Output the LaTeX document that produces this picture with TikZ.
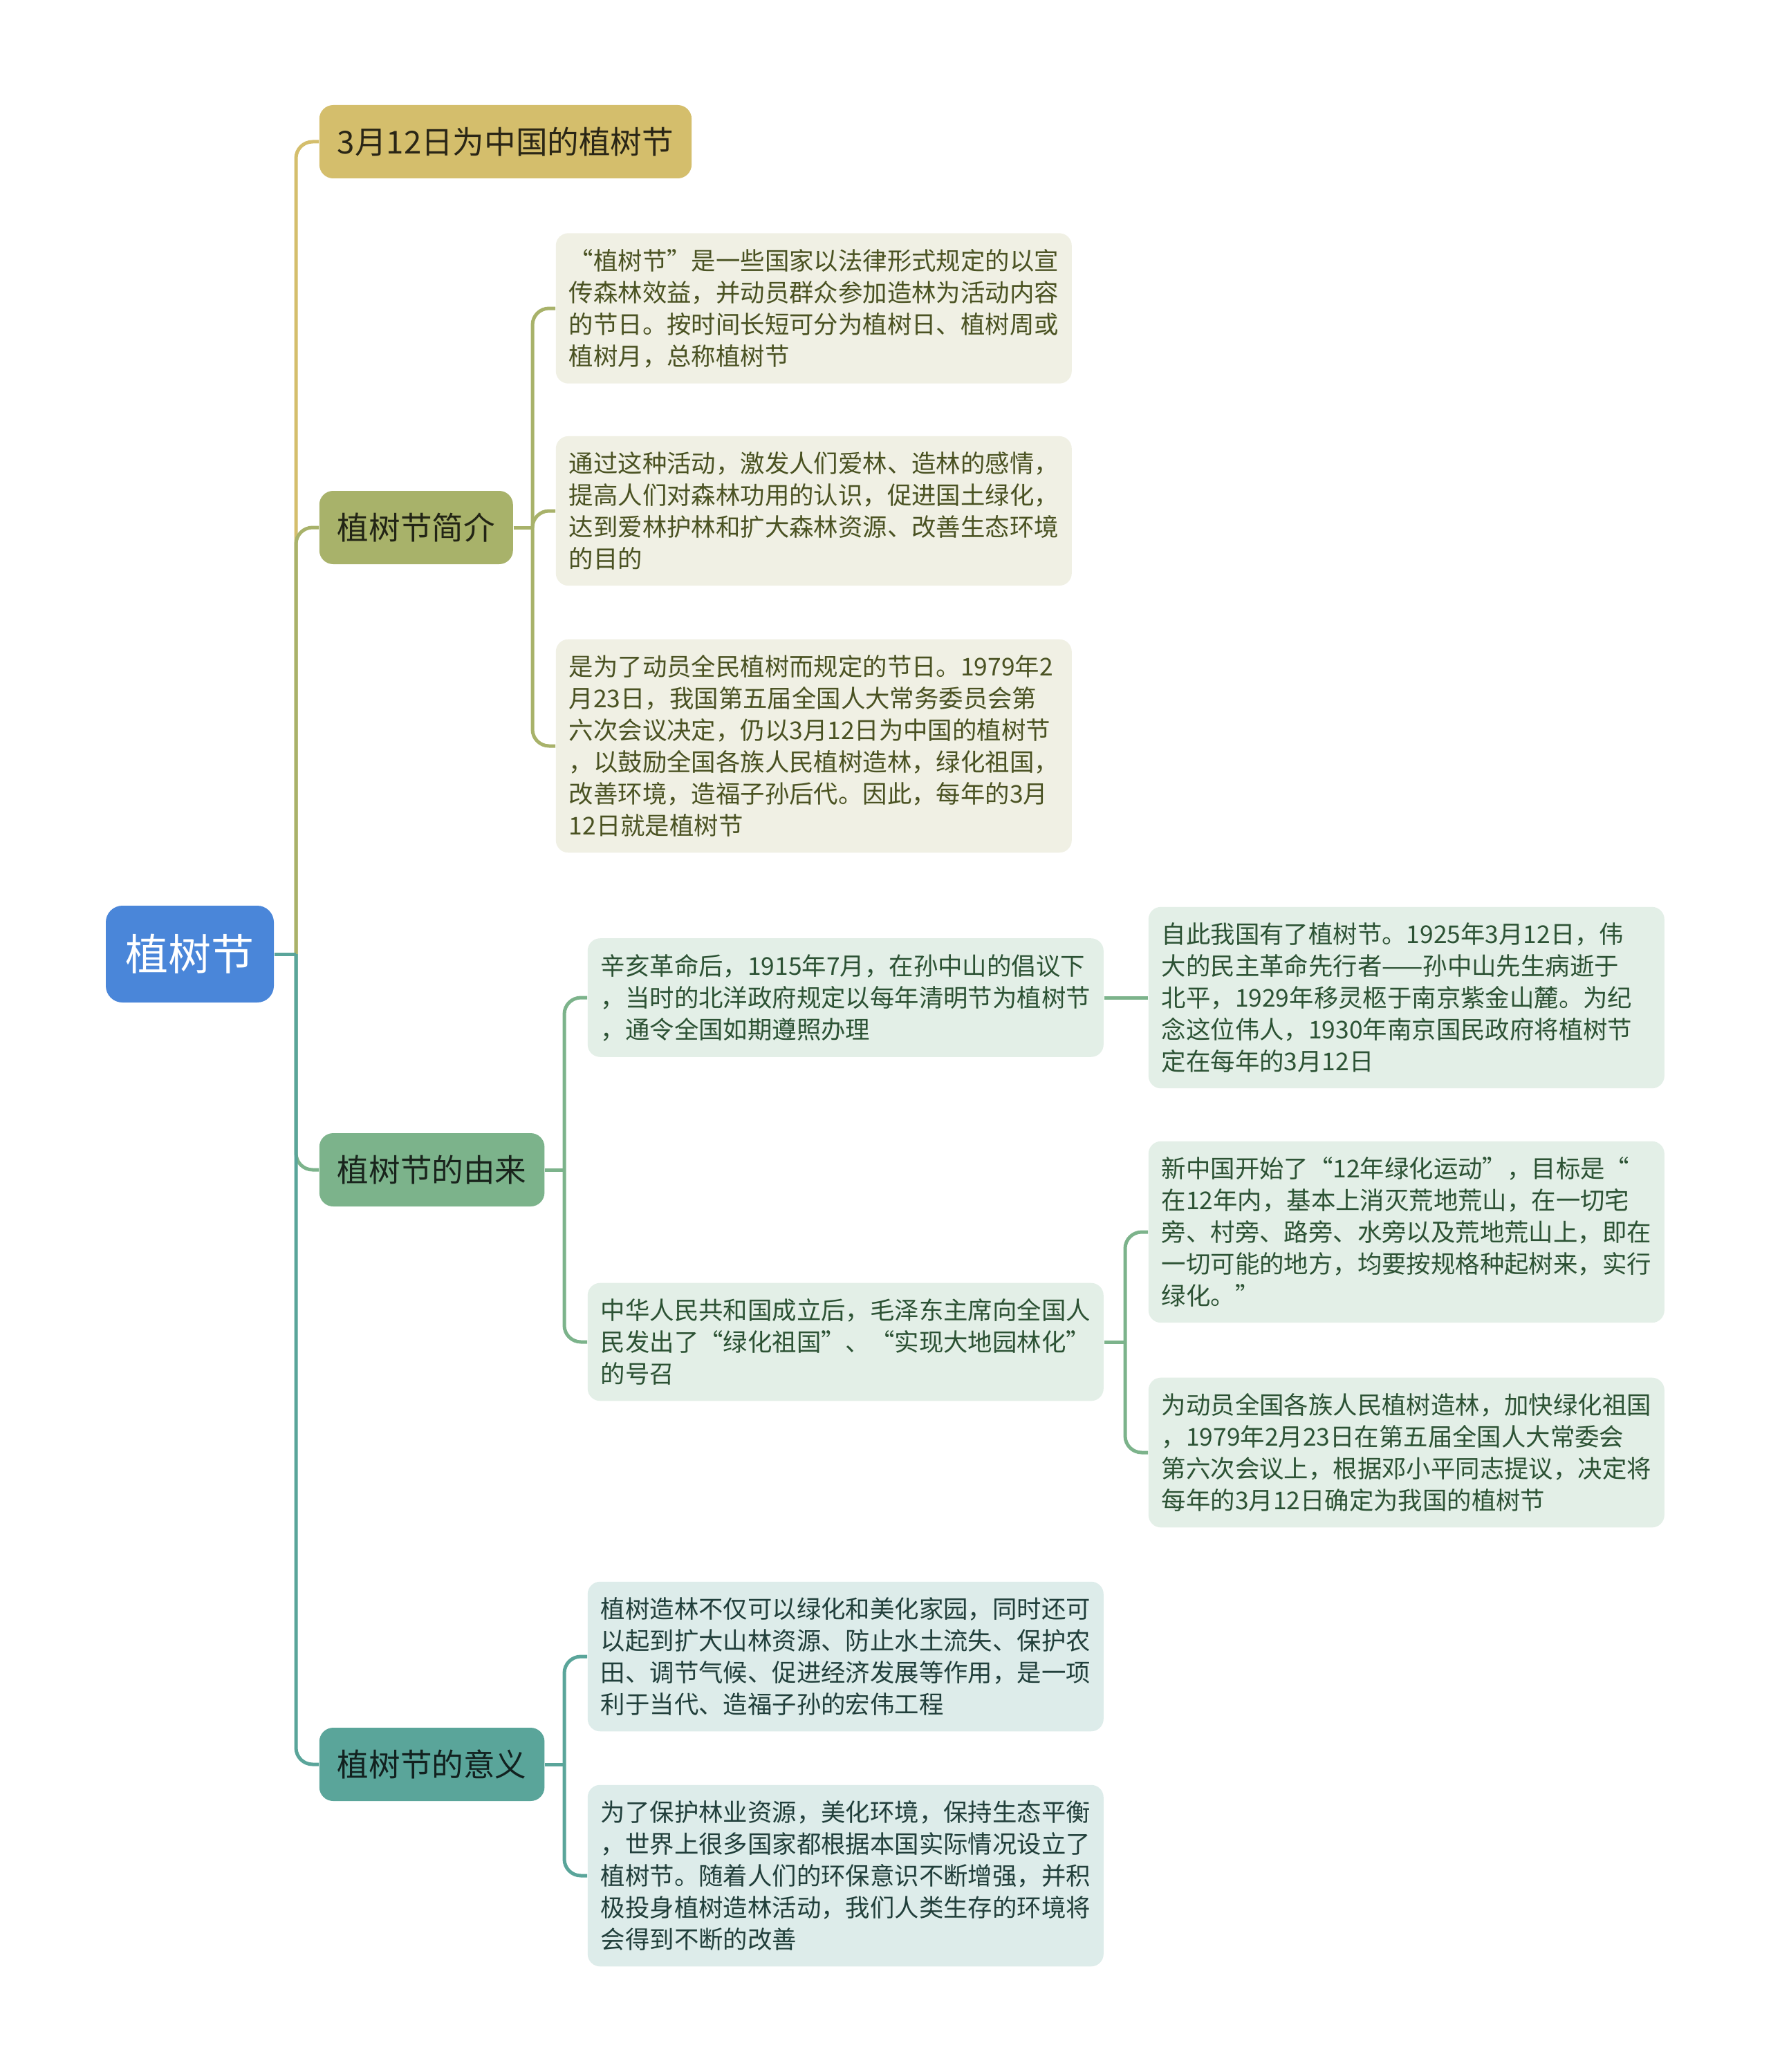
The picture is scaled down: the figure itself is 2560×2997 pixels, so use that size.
\documentclass[tikz,border=0pt]{standalone}
\usepackage{fontspec}
\newfontfamily\cjk{Noto Sans CJK SC}
\definecolor{rootblue}{HTML}{4A86D9}
\definecolor{gold}{HTML}{D4BE6C}
\definecolor{olive}{HTML}{A8B26A}
\definecolor{leafgreen}{HTML}{7CB38B}
\definecolor{teal}{HTML}{5AA59A}
\definecolor{goldbg}{HTML}{F0F0E4}
\definecolor{greenbg}{HTML}{E3EFE7}
\definecolor{tealbg}{HTML}{DDECEA}
\definecolor{olivetext}{HTML}{4A5222}
\definecolor{greentext}{HTML}{2C5234}
\definecolor{tealtext}{HTML}{213F3B}
\begin{document}
\begin{tikzpicture}[x=0.25pt,y=-0.25pt,
    root/.style={fill=rootblue, text=white, rounded corners=6pt,
      font=\cjk\fontsize{15.5pt}{18pt}\selectfont,
      minimum width=60.75pt, minimum height=35pt},
    topic/.style={anchor=west, rounded corners=5pt, inner xsep=6.5pt,
      minimum height=26.5pt, font=\cjk\fontsize{11.4pt}{14pt}\selectfont},
    leaf/.style={anchor=west, rounded corners=4.5pt, text width=177pt,
      align=left, inner xsep=4.75pt, inner ysep=5.7pt,
      font=\cjk\fontsize{8.85pt}{11.5pt}\selectfont}]
  \fill[white] (0,0) rectangle (2560,2997);
  \useasboundingbox (0,0) rectangle (2560,2997);
  \draw
    (274.5,1380) node[root] (zsj) {植树节}
    (461,205) node[topic, fill=gold, text=black!80!gold] (riqi) {3月12日为中国的植树节}
    (461,763) node[topic, fill=olive, text=black!80!olive] (jianjie) {植树节简介}
    (461,1692) node[topic, fill=leafgreen, text=black!80!leafgreen] (youlai) {植树节的由来}
    (461,2552) node[topic, fill=teal, text=black!80!teal] (yiyi) {植树节的意义}
    (803,446) node[leaf, fill=goldbg, text=olivetext] (jj1) {“植树节”是一些国家以法律形式规定的以宣\\传森林效益，并动员群众参加造林为活动内容\\的节日。按时间长短可分为植树日、植树周或\\植树月，总称植树节}
    (803,739) node[leaf, fill=goldbg, text=olivetext] (jj2) {通过这种活动，激发人们爱林、造林的感情，\\提高人们对森林功用的认识，促进国土绿化，\\达到爱林护林和扩大森林资源、改善生态环境\\的目的}
    (803,1079) node[leaf, fill=goldbg, text=olivetext] (jj3) {是为了动员全民植树而规定的节日。1979年2\\月23日，我国第五届全国人大常务委员会第\\六次会议决定，仍以3月12日为中国的植树节\\，以鼓励全国各族人民植树造林，绿化祖国，\\改善环境，造福子孙后代。因此，每年的3月\\12日就是植树节}
    (849,1443) node[leaf, fill=greenbg, text=greentext] (yl1) {辛亥革命后，1915年7月，在孙中山的倡议下\\，当时的北洋政府规定以每年清明节为植树节\\，通令全国如期遵照办理}
    (849,1941) node[leaf, fill=greenbg, text=greentext] (yl2) {中华人民共和国成立后，毛泽东主席向全国人\\民发出了“绿化祖国”、“实现大地园林化”\\的号召}
    (1660,1443) node[leaf, fill=greenbg, text=greentext] (yl11) {自此我国有了植树节。1925年3月12日，伟\\大的民主革命先行者——孙中山先生病逝于\\北平，1929年移灵柩于南京紫金山麓。为纪\\念这位伟人，1930年南京国民政府将植树节\\定在每年的3月12日}
    (1660,1782) node[leaf, fill=greenbg, text=greentext] (yl21) {新中国开始了“12年绿化运动”，目标是“\\在12年内，基本上消灭荒地荒山，在一切宅\\旁、村旁、路旁、水旁以及荒地荒山上，即在\\一切可能的地方，均要按规格种起树来，实行\\绿化。”}
    (1660,2101) node[leaf, fill=greenbg, text=greentext] (yl22) {为动员全国各族人民植树造林，加快绿化祖国\\，1979年2月23日在第五届全国人大常委会\\第六次会议上，根据邓小平同志提议，决定将\\每年的3月12日确定为我国的植树节}
    (849,2396) node[leaf, fill=tealbg, text=tealtext] (yy1) {植树造林不仅可以绿化和美化家园，同时还可\\以起到扩大山林资源、防止水土流失、保护农\\田、调节气候、促进经济发展等作用，是一项\\利于当代、造福子孙的宏伟工程}
    (849,2713) node[leaf, fill=tealbg, text=tealtext] (yy2) {为了保护林业资源，美化环境，保持生态平衡\\，世界上很多国家都根据本国实际情况设立了\\植树节。随着人们的环保意识不断增强，并积\\极投身植树造林活动，我们人类生存的环境将\\会得到不断的改善};
  \coordinate (zsjj) at (428,1380);
  \coordinate (jjj) at (770,763);
  \coordinate (ylj) at (816,1692);
  \coordinate (yl2j) at (1627,1941);
  \coordinate (yyj) at (816,2552);
  \begin{scope}[line width=1.25pt, rounded corners=6pt]
    \draw[gold] (zsjj) |- (riqi.west);
    \draw[olive] (zsjj) |- (jianjie.west);
    \draw[olive] (jianjie.east) -- (jjj);
    \draw[olive] (jjj) |- (jj1.west);
    \draw[olive] (jjj) |- (jj2.west);
    \draw[olive] (jjj) |- (jj3.west);
    \draw[leafgreen] (zsjj) |- (youlai.west);
    \draw[leafgreen] (youlai.east) -- (ylj);
    \draw[leafgreen] (ylj) |- (yl1.west);
    \draw[leafgreen] (ylj) |- (yl2.west);
    \draw[leafgreen] (yl1.east) -- (yl11.west);
    \draw[leafgreen] (yl2.east) -- (yl2j);
    \draw[leafgreen] (yl2j) |- (yl21.west);
    \draw[leafgreen] (yl2j) |- (yl22.west);
    \draw[teal] (zsjj) |- (yiyi.west);
    \draw[teal] (yiyi.east) -- (yyj);
    \draw[teal] (yyj) |- (yy1.west);
    \draw[teal] (yyj) |- (yy2.west);
    \draw[teal] (zsj.east) -- (zsjj);
  \end{scope}
\end{tikzpicture}
\end{document}
